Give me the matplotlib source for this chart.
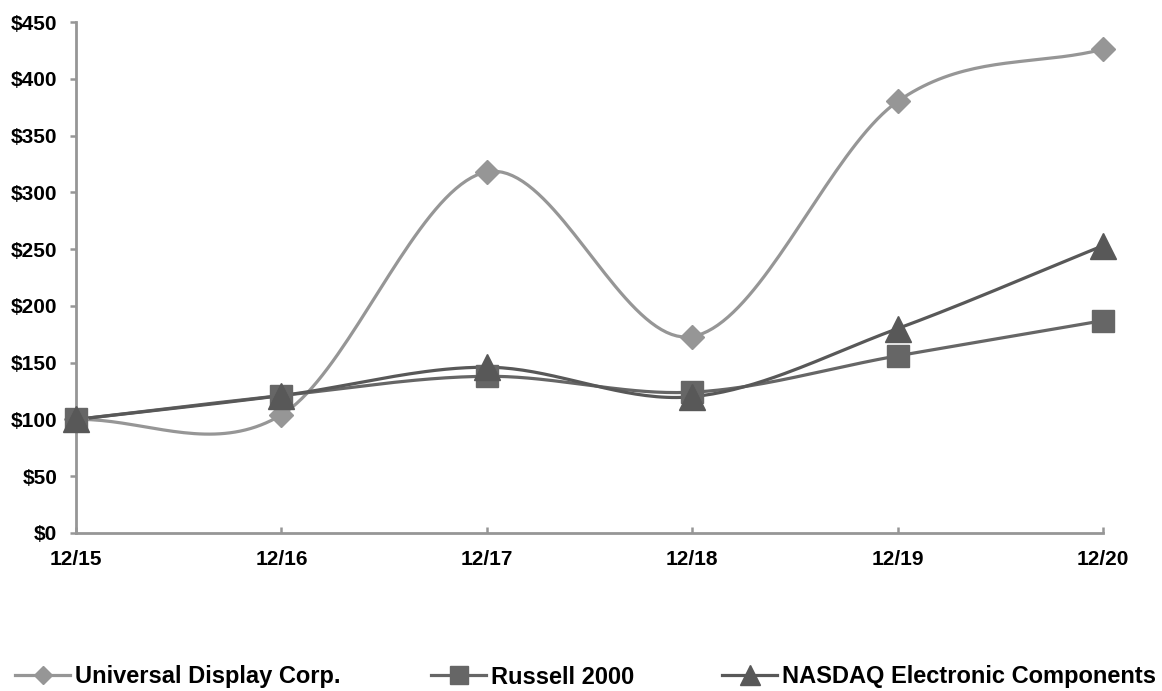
import numpy as np
import matplotlib
matplotlib.use("Agg")
import matplotlib.pyplot as plt
from matplotlib.lines import Line2D

plt.rcParams['font.family'] = ['Liberation Sans', 'DejaVu Sans']
plt.rcParams['font.weight'] = 'bold'

periods = ["12/15", "12/16", "12/17", "12/18", "12/19", "12/20"]
udc = [100, 104, 318, 173, 380, 426]
russell = [100, 121, 138, 124, 156, 187]
nasdaq = [100, 121, 146, 120, 180, 253]
y_ticks = [0, 50, 100, 150, 200, 250, 300, 350, 400, 450]


def smooth(xs, ys, n=40):
    # Catmull-Rom style curve like Excel's "smoothed line"
    xs = np.asarray(xs, float)
    ys = np.asarray(ys, float)
    m = np.zeros_like(ys)
    m[1:-1] = (ys[2:] - ys[:-2]) / 2
    m[0] = ys[1] - ys[0]
    m[-1] = ys[-1] - ys[-2]
    out_x, out_y = [], []
    for i in range(len(xs) - 1):
        t = np.linspace(0, 1, n, endpoint=False)
        h00 = 2 * t**3 - 3 * t**2 + 1
        h10 = t**3 - 2 * t**2 + t
        h01 = -2 * t**3 + 3 * t**2
        h11 = t**3 - t**2
        out_x.append(xs[i] + t * (xs[i + 1] - xs[i]))
        out_y.append(h00 * ys[i] + h10 * m[i] + h01 * ys[i + 1] + h11 * m[i + 1])
    out_x.append([xs[-1]])
    out_y.append([ys[-1]])
    return np.concatenate(out_x), np.concatenate(out_y)


series = [
    ("Universal Display Corp.", udc, "#969696", "D", 12.5),
    ("Russell 2000", russell, "#666666", "s", 16.5),
    ("NASDAQ Electronic Components", nasdaq, "#585858", "^", 18.5),
]

fig = plt.figure(figsize=(11.62, 6.91), dpi=100)
ax = fig.add_axes([76 / 1162, 1 - 533 / 691, (1103 - 76) / 1162, (533 - 22) / 691])

x = np.arange(len(periods))
handles = []
for name, vals, col, mk, ms in series:
    sx, sy = smooth(x, vals)
    ax.plot(sx, sy, color=col, lw=2.3, solid_capstyle='round', zorder=2)
    ax.plot(x, vals, linestyle='none', marker=mk, ms=ms, color=col,
            markeredgecolor=col, zorder=3, clip_on=False)
    handles.append(Line2D([], [], color=col, lw=2.3, marker=mk, ms=ms * 0.75,
                          markeredgecolor=col))

ax.set_xlim(0, len(periods) - 1)
ax.set_ylim(0, 450)
ax.set_xticks(x)
ax.set_xticklabels(periods)
ax.set_yticks(y_ticks)
ax.set_yticklabels(["$%d" % v for v in y_ticks])

for s in ["top", "right"]:
    ax.spines[s].set_visible(False)
for s in ["left", "bottom"]:
    ax.spines[s].set_color("#969696")
    ax.spines[s].set_linewidth(2)

ax.tick_params(axis='y', direction='out', length=4.5, width=1.8, color="#969696",
               labelsize=15, pad=9)
ax.tick_params(axis='x', direction='in', length=4.5, width=1.8, color="#969696",
               labelsize=15, pad=12)
for lbl in ax.get_xticklabels() + ax.get_yticklabels():
    lbl.set_fontweight('bold')

# legend entries placed like the original, one per series
leg_x = [15, 431, 722]
for h, (name, *_), lx in zip(handles, series, leg_x):
    fig.legend([h], [name], loc='center left', bbox_to_anchor=(lx / 1162, 1 - 677 / 691),
               frameon=False, borderpad=0, borderaxespad=0, handlelength=2.33,
               handletextpad=0.2, prop={'size': 17, 'weight': 'bold'})

fig.savefig("out.png", dpi=100)
